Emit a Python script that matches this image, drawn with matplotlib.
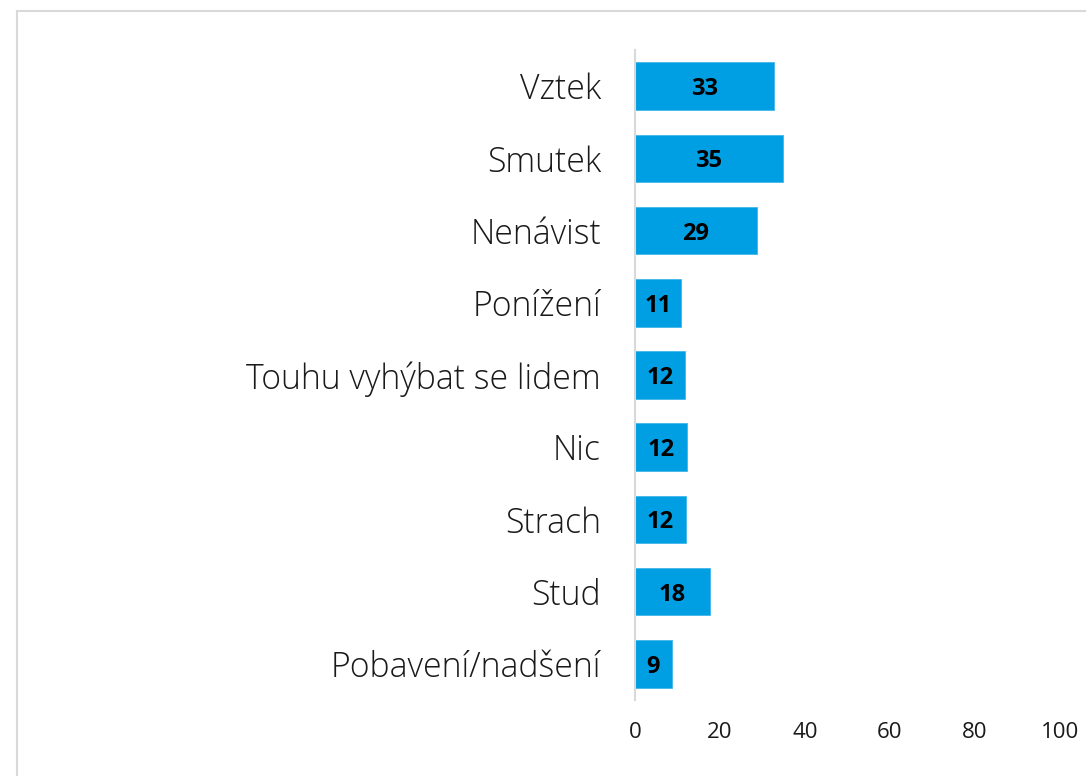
import matplotlib
matplotlib.use("Agg")
import matplotlib.pyplot as plt
from matplotlib.patches import Rectangle

categories = ["Vztek", "Smutek", "Nenávist", "Ponížení", "Touhu vyhýbat se lidem",
              "Nic", "Strach", "Stud", "Pobavení/nadšení"]
values = [32.7, 34.8, 28.7, 10.8, 11.8, 12.2, 12.0, 17.6, 8.6]
xticks = [0, 20, 40, 60, 80, 100]

W, H = 1086, 776
fig = plt.figure(figsize=(W / 100, H / 100), dpi=100)
fig.patch.set_facecolor("white")

# outer light border
fig.patches.append(Rectangle((16.5 / W, -0.05), 1.2, 1 - 11.5 / H + 0.05,
                             transform=fig.transFigure, fill=False,
                             edgecolor="#d9d9d9", linewidth=1.5))

ax = fig.add_axes([635 / W, 1 - 700 / H, (1060 - 635) / W, (700 - 50) / H])
y = list(range(len(categories)))
ax.barh(y, values, height=0.66, color="#009FE3", edgecolor="#41B5EA", linewidth=0.6)
ax.set_xlim(0, 100)
ax.set_ylim(len(categories) - 0.5, -0.5)
ax.set_yticks(y)
ax.set_yticklabels(categories, fontsize=24.3, color="#1a1a1a", family="Open Sans",
                   fontweight="light")
ax.set_xticks(xticks)
ax.set_xticklabels([str(t) for t in xticks], fontsize=16, color="#1a1a1a",
                   family="Open Sans")
ax.tick_params(axis="both", length=0)
ax.tick_params(axis="y", pad=24.5)
ax.tick_params(axis="x", pad=16)
for s in ["top", "right", "bottom"]:
    ax.spines[s].set_visible(False)
ax.spines["left"].set_color("#d9d9d9")
ax.spines["left"].set_linewidth(1.5)

for yi, v in zip(y, values):
    ax.text(v / 2, yi, f"{v:.0f}", ha="center", va="center_baseline", fontsize=17,
            fontweight="bold", color="black", family="Open Sans")

fig.savefig("out.png", dpi=100)
